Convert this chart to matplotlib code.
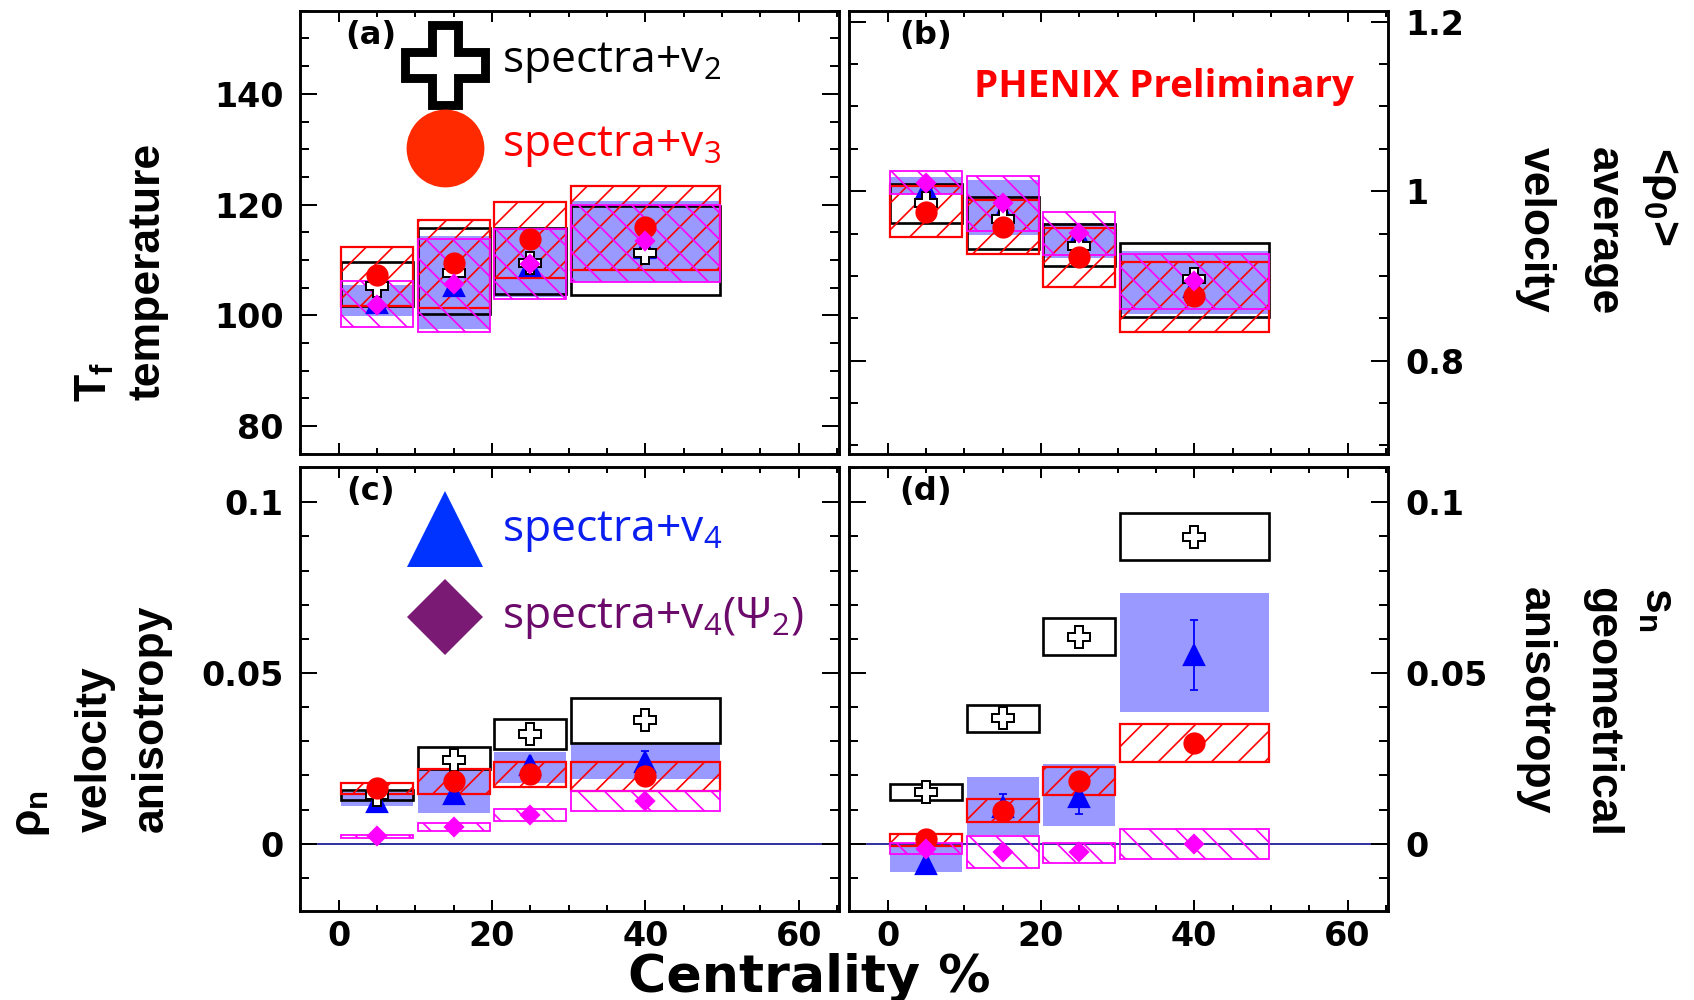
import matplotlib
matplotlib.use("Agg")
import matplotlib.pyplot as plt
from matplotlib.ticker import MultipleLocator, FuncFormatter

DPI = 160

# centrality bins (%)
bin_lo = [0, 10, 20, 30]
bin_hi = [10, 20, 30, 50]
cent = [5, 15, 25, 40]

# (a) freeze-out temperature T_f
tf_v2 = [105.3, 107.7, 109.5, 111.3]
tf_v2_lo = [101.6, 100.2, 103.9, 103.6]
tf_v2_hi = [109.7, 115.8, 115.8, 119.7]
tf_v3 = [107.2, 109.5, 113.7, 115.9]
tf_v3_lo = [101.7, 101.3, 106.7, 108.2]
tf_v3_hi = [112.3, 117.2, 120.4, 123.3]
tf_v4 = [102.3, 105.3, 108.9, 112.2]
tf_v4_err = [0.3, 0.3, 0.3, 0.4]
tf_v4_lo = [99.9, 97.5, 103.3, 106.0]
tf_v4_hi = [105.5, 114.3, 115.6, 120.6]
tf_v4p2 = [101.9, 105.6, 109.2, 113.4]
tf_v4p2_lo = [97.8, 97.0, 102.9, 106.0]
tf_v4p2_hi = [106.2, 113.8, 115.5, 120.0]

# (b) average velocity <rho_0>
r0_v2 = [0.986, 0.967, 0.935, 0.896]
r0_v2_lo = [0.963, 0.932, 0.912, 0.852]
r0_v2_hi = [1.008, 0.993, 0.961, 0.939]
r0_v3 = [0.976, 0.958, 0.922, 0.876]
r0_v3_lo = [0.946, 0.926, 0.887, 0.834]
r0_v3_hi = [1.006, 0.989, 0.956, 0.916]
r0_v4 = [1.002, 0.974, 0.947, 0.887]
r0_v4_err = [0.002, 0.002, 0.002, 0.003]
r0_v4_lo = [0.997, 0.948, 0.921, 0.855]
r0_v4_hi = [1.017, 1.013, 0.962, 0.929]
r0_v4p2 = [1.010, 0.986, 0.951, 0.894]
r0_v4p2_lo = [0.997, 0.953, 0.925, 0.861]
r0_v4p2_hi = [1.024, 1.018, 0.976, 0.926]

# (c) velocity anisotropy rho_n
rn_v2 = [0.0142, 0.0245, 0.0321, 0.0362]
rn_v2_lo = [0.0128, 0.0218, 0.0278, 0.0294]
rn_v2_hi = [0.0157, 0.0284, 0.0364, 0.0428]
rn_v3 = [0.0162, 0.0185, 0.0204, 0.0198]
rn_v3_lo = [0.0145, 0.0147, 0.0167, 0.0155]
rn_v3_hi = [0.0179, 0.0218, 0.0238, 0.0238]
rn_v4 = [0.0123, 0.0147, 0.0230, 0.0240]
rn_v4_err = [0.0008, 0.0010, 0.0012, 0.0032]
rn_v4_lo = [0.0111, 0.0091, 0.0179, 0.0189]
rn_v4_hi = [0.0152, 0.0216, 0.0269, 0.0291]
rn_v4p2 = [0.0022, 0.0050, 0.0084, 0.0125]
rn_v4p2_lo = [0.0017, 0.0038, 0.0066, 0.0096]
rn_v4p2_hi = [0.0025, 0.0060, 0.0101, 0.0154]

# (d) geometrical anisotropy s_n
sn_v2 = [0.0152, 0.0367, 0.0606, 0.0899]
sn_v2_lo = [0.0128, 0.0327, 0.0553, 0.0831]
sn_v2_hi = [0.0174, 0.0405, 0.0662, 0.0968]
sn_v3 = [0.0013, 0.0097, 0.0184, 0.0296]
sn_v3_lo = [-0.0007, 0.0063, 0.0143, 0.0240]
sn_v3_hi = [0.0028, 0.0130, 0.0226, 0.0351]
sn_v4 = [-0.0058, 0.0107, 0.0138, 0.0553]
sn_v4_err = [0.0010, 0.0038, 0.0051, 0.0102]
sn_v4_lo = [-0.0082, 0.0025, 0.0053, 0.0387]
sn_v4_hi = [-0.0004, 0.0196, 0.0233, 0.0735]
sn_v4p2 = [-0.0014, -0.0023, -0.0025, -0.0001]
sn_v4p2_lo = [-0.0031, -0.0070, -0.0055, -0.0045]
sn_v4p2_hi = [0.0001, 0.0023, 0.0003, 0.0042]

plt.rcParams['font.family'] = ['DejaVu Sans']
plt.rcParams['font.weight'] = 'bold'
plt.rcParams['mathtext.default'] = 'regular'
plt.rcParams['hatch.linewidth'] = 0.75

LABEL_FONT = ['Liberation Sans', 'DejaVu Sans']
LEGEND_FONT = ['Open Sans', 'DejaVu Sans']


def draw_boxes(ax, lo, hi, **kw):
    left = [b + 0.3 for b in bin_lo]
    width = [h - l - 0.6 for l, h in zip(bin_lo, bin_hi)]
    height = [h - l for l, h in zip(lo, hi)]
    ax.bar(left, height, width=width, bottom=lo, align='edge', **kw)


def draw_panel(ax, v2, v2lo, v2hi, v3, v3lo, v3hi, v4, v4err, v4lo, v4hi, v4p2, v4p2lo, v4p2hi):
    # systematic boxes
    draw_boxes(ax, v4lo, v4hi, color='#9999ff', linewidth=0, zorder=1)
    draw_boxes(ax, v2lo, v2hi, fill=False, edgecolor='black', linewidth=1.2, zorder=2)
    draw_boxes(ax, v3lo, v3hi, fill=False, edgecolor='#ff0000', hatch='//', linewidth=1.0, zorder=3)
    draw_boxes(ax, v4p2lo, v4p2hi, fill=False, edgecolor='#ff00ff', hatch='\\\\', linewidth=0.8, zorder=4)

    # points
    ax.errorbar(cent, v4, yerr=v4err, fmt='^', color='#0000ff', ms=9, capsize=2,
                elinewidth=0.8, capthick=0.8, zorder=5)
    ax.plot(cent, v2, 'P', ms=10, mfc='white', mec='black', mew=0.9, ls='none', zorder=6)
    ax.plot(cent, v3, 'o', ms=9, color='#ff0000', ls='none', zorder=7)
    ax.plot(cent, v4p2, 'D', ms=6, color='#ff00ff', ls='none', zorder=8)


def style_axes(ax, ymajor, yminor, ylim, label_right=False, label_bottom=False):
    ax.set_xlim(-5, 65.3)
    ax.set_ylim(*ylim)
    ax.xaxis.set_major_locator(MultipleLocator(20))
    ax.xaxis.set_minor_locator(MultipleLocator(5))
    ax.yaxis.set_major_locator(MultipleLocator(ymajor))
    ax.yaxis.set_minor_locator(MultipleLocator(yminor))
    ax.yaxis.set_major_formatter(FuncFormatter(lambda v, p: '%g' % round(v, 4)))
    ax.tick_params(which='both', direction='in', top=True, right=True, width=0.9,
                   labelsize=15, colors='black')
    ax.tick_params(axis='x', which='major', length=5, pad=4)
    ax.tick_params(axis='x', which='minor', length=2.5)
    ax.tick_params(axis='y', which='major', length=7.6, pad=7.5)
    ax.tick_params(axis='y', which='minor', length=4)
    ax.tick_params(labelbottom=label_bottom, labelleft=not label_right, labelright=label_right)
    for lab in ax.get_xticklabels() + ax.get_yticklabels():
        lab.set_fontweight('bold')
    for sp in ax.spines.values():
        sp.set_linewidth(1.3)


fig = plt.figure(figsize=(1694 / DPI, 1000 / DPI), dpi=DPI)

axA = fig.add_axes([0.1773, 0.5463, 0.3182, 0.4429])
axB = fig.add_axes([0.5013, 0.5463, 0.3182, 0.4429])
axC = fig.add_axes([0.1773, 0.0893, 0.3182, 0.4440])
axD = fig.add_axes([0.5013, 0.0893, 0.3182, 0.4440])

draw_panel(axA, tf_v2, tf_v2_lo, tf_v2_hi, tf_v3, tf_v3_lo, tf_v3_hi,
           tf_v4, tf_v4_err, tf_v4_lo, tf_v4_hi, tf_v4p2, tf_v4p2_lo, tf_v4p2_hi)
draw_panel(axB, r0_v2, r0_v2_lo, r0_v2_hi, r0_v3, r0_v3_lo, r0_v3_hi,
           r0_v4, r0_v4_err, r0_v4_lo, r0_v4_hi, r0_v4p2, r0_v4p2_lo, r0_v4p2_hi)
draw_panel(axC, rn_v2, rn_v2_lo, rn_v2_hi, rn_v3, rn_v3_lo, rn_v3_hi,
           rn_v4, rn_v4_err, rn_v4_lo, rn_v4_hi, rn_v4p2, rn_v4p2_lo, rn_v4p2_hi)
draw_panel(axD, sn_v2, sn_v2_lo, sn_v2_hi, sn_v3, sn_v3_lo, sn_v3_hi,
           sn_v4, sn_v4_err, sn_v4_lo, sn_v4_hi, sn_v4p2, sn_v4p2_lo, sn_v4p2_hi)

style_axes(axA, 20, 5, (75, 155))
style_axes(axB, 0.2, 0.05, (0.69, 1.213), label_right=True)
style_axes(axC, 0.05, 0.01, (-0.0196, 0.1104), label_bottom=True)
style_axes(axD, 0.05, 0.01, (-0.0196, 0.1104), label_right=True, label_bottom=True)

for ax in (axC, axD):
    ax.axhline(0, 0.033, 0.974, color='#1c1c96', lw=0.8, zorder=0.5)

for ax, tag, x in ((axA, '(a)', 0.130), (axB, '(b)', 0.142), (axC, '(c)', 0.130), (axD, '(d)', 0.142)):
    ax.text(x, 0.944, tag, transform=ax.transAxes, ha='center', va='center',
            fontsize=14.5, fontweight='bold')

# legend entries drawn inside panels (a) and (c)
axA.plot([0.2685], [0.878], 'P', ms=36, mfc='white', mec='black', mew=4,
         transform=axA.transAxes, clip_on=False, zorder=10)
axA.text(0.375, 0.883, 'spectra+v$_{2}$', transform=axA.transAxes, ha='left', va='center',
         fontsize=20, fontweight='normal', family=LEGEND_FONT, color='black')
axA.plot([0.2685], [0.69], 'o', ms=35, color='#ff2a00', mec='none',
         transform=axA.transAxes, clip_on=False, zorder=10)
axA.text(0.375, 0.693, 'spectra+v$_{3}$', transform=axA.transAxes, ha='left', va='center',
         fontsize=20, fontweight='normal', family=LEGEND_FONT, color='#ff0000')

axC.plot([0.2685], [0.859], '^', ms=34, color='#0033ff', mec='none',
         transform=axC.transAxes, clip_on=False, zorder=10)
axC.text(0.375, 0.854, 'spectra+v$_{4}$', transform=axC.transAxes, ha='left', va='center',
         fontsize=20, fontweight='normal', family=LEGEND_FONT, color='#0a1ef0')
axC.plot([0.2685], [0.662], 'D', ms=24.5, color='#7a1a74', mec='none',
         transform=axC.transAxes, clip_on=False, zorder=10)
axC.text(0.375, 0.659, 'spectra+v$_{4}$(Ψ$_{2}$)', transform=axC.transAxes, ha='left',
         va='center', fontsize=20, fontweight='normal', family=LEGEND_FONT, color='#6b0a6b')

axB.text(0.583, 0.829, 'PHENIX Preliminary', transform=axB.transAxes, ha='center',
         va='center', fontsize=17.3, fontweight='bold', family=LEGEND_FONT, color='#ff0000')

# axis titles
lab = dict(fontsize=20, fontweight='bold', family=LABEL_FONT)
fig.text(95 / 1694, 0.598, 'T$_f$', rotation=90, ha='center', va='bottom', **lab)
fig.text(148 / 1694, 0.600, 'temperature', rotation=90, ha='center', va='bottom', **lab)
fig.text(32 / 1694, 0.163, 'ρ$_n$', rotation=90, ha='center', va='bottom', **lab)
fig.text(95 / 1694, 0.168, 'velocity', rotation=90, ha='center', va='bottom', **lab)
fig.text(151 / 1694, 0.168, 'anisotropy', rotation=90, ha='center', va='bottom', **lab)

fig.text(1660 / 1694, 0.853, '<ρ$_0$>', rotation=270, ha='center', va='top', **lab)
fig.text(1603 / 1694, 0.853, 'average', rotation=270, ha='center', va='top', **lab)
fig.text(1535 / 1694, 0.853, 'velocity', rotation=270, ha='center', va='top', **lab)
fig.text(1657 / 1694, 0.413, 's$_n$', rotation=270, ha='center', va='top', **lab)
fig.text(1602 / 1694, 0.413, 'geometrical', rotation=270, ha='center', va='top', **lab)
fig.text(1535 / 1694, 0.413, 'anisotropy', rotation=270, ha='center', va='top', **lab)

fig.text(809 / 1694, 0.022, 'Centrality %', ha='center', va='center', fontsize=23.5,
         fontweight='bold')

fig.savefig('out.png', dpi=DPI)
